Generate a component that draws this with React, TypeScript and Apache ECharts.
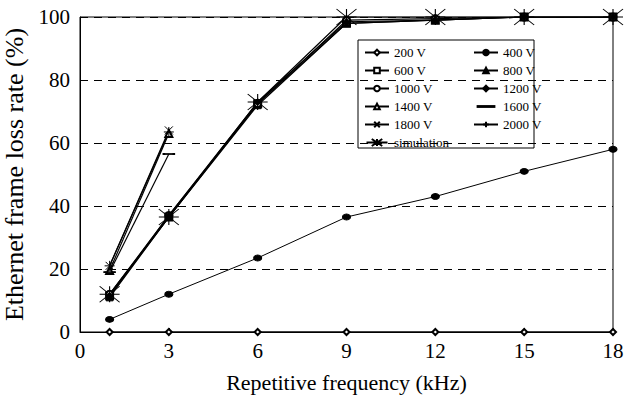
import React, { useEffect, useRef } from "react";
import * as echarts from "echarts";

const freq = [1, 3, 6, 9, 12, 15, 18];
const freqShort = [1, 3];
const v200 = [0, 0, 0, 0, 0, 0, 0];
const v400 = [4, 12, 23.5, 36.5, 43, 51, 58];
const v600 = [11.5, 36.5, 72.5, 98, 99, 100, 100];
const v800 = [11, 36.5, 72, 98, 99, 100, 100];
const v1000 = [12, 37, 72.5, 99, 99.5, 100, 100];
const v1200 = [11.5, 37, 73, 98.5, 99, 100, 100];
const v1400 = [19.5, 63];
const v1600 = [19, 56.5];
const v1800 = [21, 64];
const v2000 = [21, 63.5];
const sim = [12, 36.5, 73, 100, 100, 100, 100];
const xTicks = [0, 3, 6, 9, 12, 15, 18];
const yTicks = [0, 20, 40, 60, 80, 100];
const legendCol1 = ["200 V", "600 V", "1000 V", "1400 V", "1800 V", "simulation"];
const legendCol2 = ["400 V", "800 V", "1200 V", "1600 V", "2000 V"];

const FONT = "Liberation Serif";

const CROSS = "path://M0 0L10 10M10 0L0 10";
const PLUS = "path://M5 0L5 10M0 5L10 5";
const STAR = "path://M0 0L20 16M20 0L0 16M10 0L10 16M0 8L20 8";
const DASH = "path://M0 0M0 4.4L24 4.4L24 5.6L0 5.6ZM24 10";
const STAR_ICON = "path://M0 4L24 4M6 0L18 8M18 0L6 8M12 0L12 8";

export default function App() {
  const ref = useRef<HTMLDivElement>(null);
  useEffect(() => {
    if (!ref.current) return;
    const chart = echarts.init(ref.current, null, { renderer: "svg" });
    const pair = (xs: number[], ys: number[]) => xs.map((x, i) => [x, ys[i]]);
    const mk = (name: string, xs: number[], ys: number[], symbol: string, size: any, extra: any = {}) => ({
      name,
      type: "line",
      data: pair(xs, ys),
      symbol,
      symbolSize: size,
      lineStyle: { color: "#000", width: 1.2 },
      itemStyle: { color: "#000", borderColor: "#000", borderWidth: 1 },
      ...extra,
    });
    const series = [
      mk("200 V", freq, v200, "emptyDiamond", 6, { lineStyle: { color: "#000", width: 1 } }),
      mk("400 V", freq, v400, "circle", [8, 6], { lineStyle: { color: "#000", width: 1 } }),
      mk("600 V", freq, v600, "emptyRect", 7),
      mk("800 V", freq, v800, "triangle", 7),
      mk("1000 V", freq, v1000, "emptyCircle", 7),
      mk("1200 V", freq, v1200, "diamond", 7),
      mk("1400 V", freqShort, v1400, "emptyTriangle", 7),
      mk("1600 V", freqShort, v1600, "rect", [10, 1.5]),
      mk("1800 V", freqShort, v1800, CROSS, 8),
      mk("2000 V", freqShort, v2000, PLUS, 10),
      mk("simulation", freq, sim, STAR, [20, 16]),
    ];
    const legendText = { fontFamily: FONT, fontSize: 13, color: "#000", lineHeight: 12 };
    const legendItems = (names: string[]) =>
      names.map((n) =>
        n === "1600 V" ? { name: n, icon: DASH } : n === "simulation" ? { name: n, icon: STAR_ICON } : n
      );
    chart.setOption({
      animation: false,
      backgroundColor: "#fff",
      textStyle: { fontFamily: FONT, color: "#000" },
      grid: {
        left: 80, top: 17, right: 22, bottom: 71,
        containLabel: false, outerBoundsMode: "none",
        show: true, borderColor: "#000", borderWidth: 1,
      },
      xAxis: {
        type: "value",
        min: 0,
        max: 18,
        interval: 3,
        name: "Repetitive frequency (kHz)",
        nameLocation: "middle",
        nameGap: 39,
        nameTextStyle: { fontFamily: FONT, fontSize: 22, color: "#000" },
        axisLine: { lineStyle: { color: "#000" } },
        axisTick: { inside: true, length: 4, lineStyle: { color: "#000" } },
        axisLabel: { fontFamily: FONT, fontSize: 21, color: "#000", margin: 8,
          formatter: (v: number) => (xTicks.includes(v) ? String(v) : "") },
        splitLine: { show: false },
      },
      yAxis: {
        type: "value",
        min: 0,
        max: 100,
        interval: 20,
        name: "Ethernet frame loss rate (%)",
        nameLocation: "middle",
        nameGap: 42,
        nameTextStyle: { fontFamily: FONT, fontSize: 26, color: "#000" },
        axisLine: { show: true, lineStyle: { color: "#000" } },
        axisTick: { inside: true, length: 4, lineStyle: { color: "#000" } },
        axisLabel: { fontFamily: FONT, fontSize: 21, color: "#000", margin: 10,
          formatter: (v: number) => (yTicks.includes(v) ? String(v) : "") },
        splitLine: { show: true, lineStyle: { color: "#000", type: [8, 6], width: 1 } },
      },
      legend: [
        {
          data: legendItems(legendCol1),
          orient: "vertical",
          left: 364,
          top: 46,
          itemWidth: 24,
          itemHeight: 7,
          itemGap: 5,
          padding: 0,
          textStyle: legendText,
        },
        {
          data: legendItems(legendCol2),
          orient: "vertical",
          left: 473,
          top: 46,
          itemWidth: 24,
          itemHeight: 7,
          itemGap: 5,
          padding: 0,
          textStyle: legendText,
        },
      ],
      graphic: [
        {
          type: "rect",
          shape: { x: 358, y: 40, width: 176, height: 108 },
          style: { fill: "#fff", stroke: "#000", lineWidth: 1 },
          z: 0,
          zlevel: 0,
        },
      ],
      series,
    });
    return () => chart.dispose();
  }, []);
  return <div ref={ref} style={{ width: 635, height: 403, position: "absolute", left: 0, top: 0 }} />;
}
